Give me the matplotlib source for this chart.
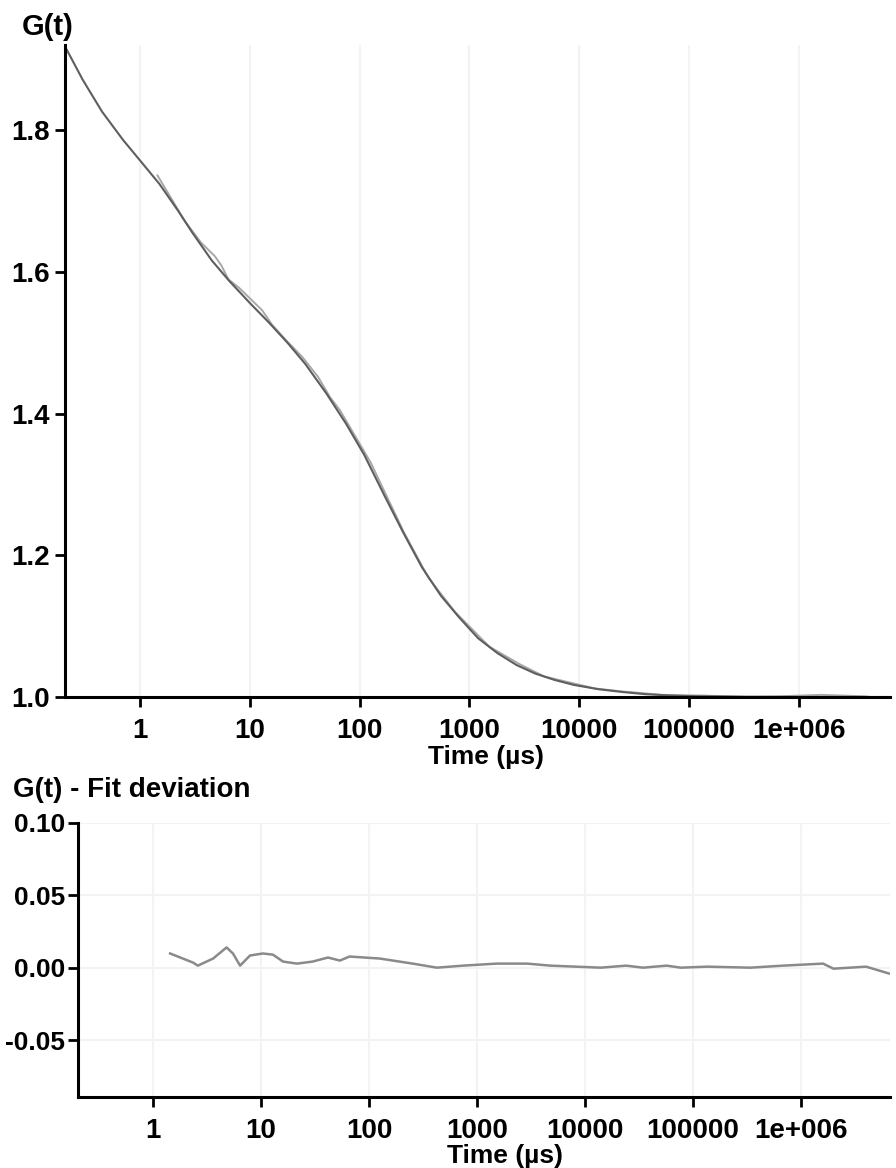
import matplotlib
matplotlib.use("Agg")
import matplotlib.pyplot as plt
from matplotlib.ticker import FixedLocator, FixedFormatter, NullLocator

plt.rcParams['font.family'] = ['Liberation Sans', 'DejaVu Sans']
plt.rcParams['font.weight'] = 'bold'

# ---- data ----
fit_t = [0.207, 0.3, 0.45, 0.7, 1.0, 1.5, 2.2, 3.0, 4.5, 6.5, 10, 15, 22, 32, 50, 75,
         110, 170, 250, 370, 550, 800, 1200, 1800, 2700, 4000, 6000, 9000, 15000,
         25000, 40000, 70000, 1.2e5, 3e5, 1e6, 3e6, 6.8e6]
fit_g = [1.918, 1.871, 1.826, 1.786, 1.757, 1.724, 1.687, 1.655, 1.616, 1.587, 1.556,
         1.528, 1.500, 1.470, 1.428, 1.386, 1.342, 1.283, 1.232, 1.183, 1.143, 1.113,
         1.083, 1.062, 1.045, 1.033, 1.024, 1.017, 1.011, 1.007, 1.004, 1.002, 1.001,
         1.0005, 1.0, 1.0, 1.0]

data_t = [1.44, 2.35, 2.6, 3.6, 4.8, 5.5, 6.4, 7.9, 10.4, 12.9, 16, 21.5, 30, 41.7,
          53.8, 66, 126, 254, 425, 741, 1520, 2900, 4800, 14000, 24000, 57000,
          135000, 340000, 680000, 1.6e6, 4e6, 6.5e6]
data_g = [1.736, 1.681, 1.670, 1.641, 1.622, 1.609, 1.589, 1.578, 1.560, 1.546, 1.525,
          1.503, 1.480, 1.452, 1.423, 1.405, 1.331, 1.232, 1.168, 1.120, 1.071, 1.046,
          1.029, 1.012, 1.008, 1.003, 1.002, 1.000, 1.001, 1.003, 1.001, 0.997]

res_t = [1.44, 2.35, 2.6, 3.6, 4.8, 5.5, 6.4, 7.9, 10.4, 12.9, 16, 21.5, 30, 41.7,
         53.8, 66, 126, 254, 425, 741, 1520, 2900, 4800, 14000, 24000, 34500, 57000,
         77000, 135000, 340000, 680000, 1.6e6, 2e6, 4e6, 6.5e6]
res_v = [0.0098, 0.0035, 0.0014, 0.0063, 0.014, 0.0098, 0.0014, 0.0084, 0.0098, 0.009,
         0.0042, 0.0028, 0.0042, 0.007, 0.0049, 0.0077, 0.0063, 0.0028, 0.0, 0.0014,
         0.0028, 0.0028, 0.0014, 0.0, 0.0014, 0.0, 0.0014, 0.0, 0.0007, 0.0, 0.0014,
         0.0028, -0.0007, 0.0007, -0.004]

x_ticks = [1, 10, 100, 1000, 10000, 100000, 1000000]
x_labels = ['1', '10', '100', '1000', '10000', '100000', '1e+006']
top_yticks = [1.0, 1.2, 1.4, 1.6, 1.8]
top_ylabels = ['1.0', '1.2', '1.4', '1.6', '1.8']
bot_yticks = [-0.05, 0.0, 0.05, 0.10]
bot_ylabels = ['-0.05', '0.00', '0.05', '0.10']

W, H = 896, 1168
fig = plt.figure(figsize=(W / 100, H / 100), dpi=100)

def rect(l, t, r, b):
    return [l / W, 1 - b / H, (r - l) / W, (b - t) / H]

ax1 = fig.add_axes(rect(65, 45, 890, 697))
ax2 = fig.add_axes(rect(78, 823, 890, 1097))

FS = 20
for ax, yt, yl in [(ax1, top_yticks, top_ylabels), (ax2, bot_yticks, bot_ylabels)]:
    ax.set_xscale('log')
    ax.xaxis.set_major_locator(FixedLocator(x_ticks))
    ax.xaxis.set_major_formatter(FixedFormatter(x_labels))
    ax.xaxis.set_minor_locator(NullLocator())
    ax.yaxis.set_major_locator(FixedLocator(yt))
    ax.yaxis.set_major_formatter(FixedFormatter(yl))
    for s in ['top', 'right']:
        ax.spines[s].set_visible(False)
    for s in ['left', 'bottom']:
        ax.spines[s].set_linewidth(2.2)
        ax.spines[s].set_color('black')
    ax.tick_params(axis='both', length=7, width=2, color='black', labelsize=FS)
    ax.tick_params(axis='x', pad=8)
    for lab in ax.get_xticklabels() + ax.get_yticklabels():
        lab.set_fontweight('bold')
    ax.set_axisbelow(True)

ax1.tick_params(axis='y', pad=4)
ax2.tick_params(axis='y', pad=2, labelsize=19)

ax1.grid(True, axis='x', color='#f3f3f3', linewidth=1.5)
ax2.grid(True, color='#f3f3f3', linewidth=1.5)

ax1.plot(data_t, data_g, color='#a8a8a8', linewidth=1.4)
ax1.plot(fit_t, fit_g, color='#5e5e5e', linewidth=1.5)
ax1.set_xlim(0.207, 6.8e6)
ax1.set_ylim(1.0, 1.92)

ax2.plot(res_t, res_v, color='#8a8a8a', linewidth=1.8)
ax2.set_xlim(0.202, 6.67e6)
ax2.set_ylim(-0.0894, 0.10)

fig.text(22 / W, 1 - 27 / H, 'G(t)', fontsize=FS + 1, fontweight='bold', ha='left', va='center')
fig.text(13 / W, 1 - 790 / H, 'G(t) - Fit deviation', fontsize=FS, fontweight='bold',
         ha='left', va='center')
fig.text(486 / W, 1 - 757 / H, 'Time (µs)', fontsize=FS - 1, fontweight='bold',
         ha='center', va='center')
fig.text(505 / W, 1 - 1156 / H, 'Time (µs)', fontsize=FS - 1, fontweight='bold',
         ha='center', va='center')

fig.savefig('out.png', dpi=100)
